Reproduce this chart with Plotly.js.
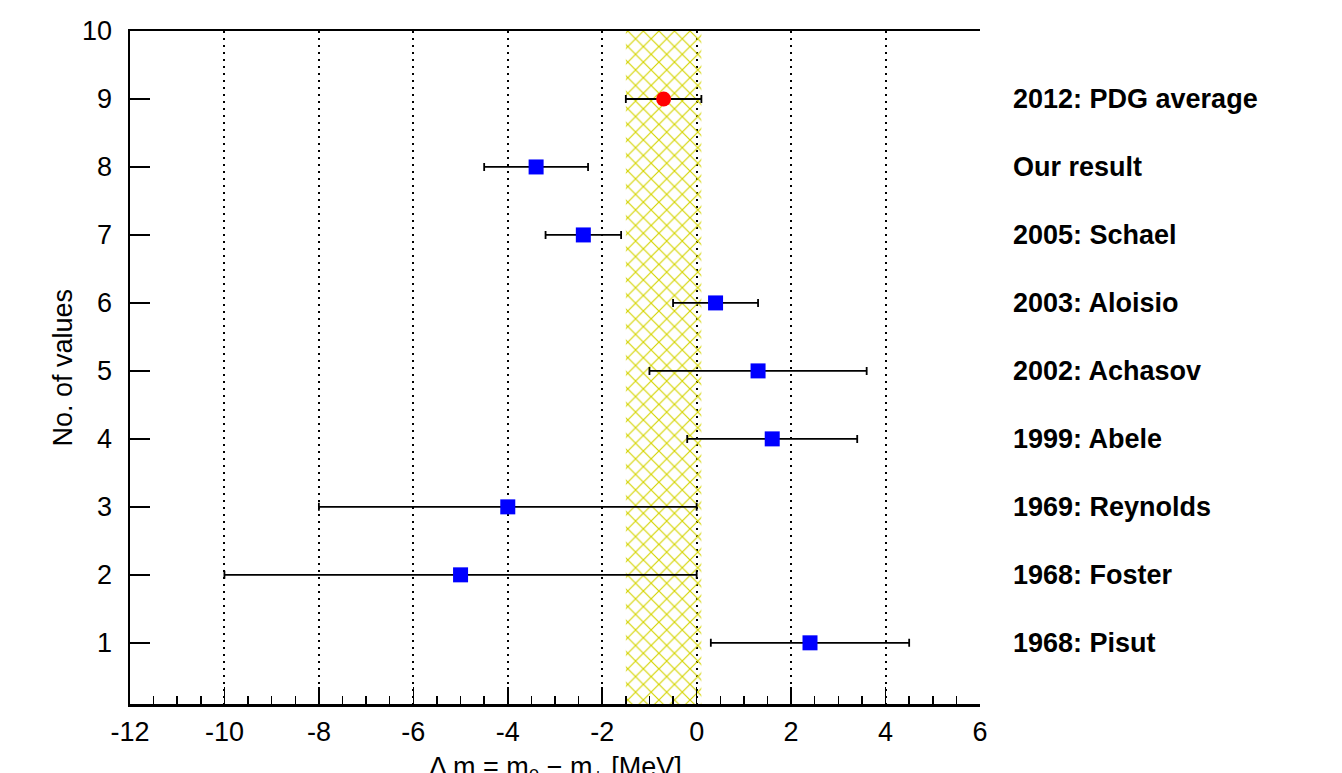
<!DOCTYPE html>
<html>
<head>
<meta charset="utf-8">
<script src="https://cdn.plot.ly/plotly-3.0.1.min.js"></script>
<style>html,body{margin:0;padding:0;background:#fff;}#chart{width:1342px;height:773px;}</style>
</head>
<body>
<div id="chart"></div>
<script>
// Measurements (No. of values position, value, error)
const labels = ["1968: Pisut", "1968: Foster", "1969: Reynolds", "1999: Abele", "2002: Achasov", "2003: Aloisio", "2005: Schael", "Our result"];
const positions = [1, 2, 3, 4, 5, 6, 7, 8];
const values = [2.4, -5.0, -4.0, 1.6, 1.3, 0.4, -2.4, -3.4];
const errors = [2.1, 5.0, 4.0, 1.8, 2.3, 0.9, 0.8, 1.1];

const pdgLabel = "2012: PDG average";
const pdgPosition = [9];
const pdgValue = [-0.7];
const pdgError = [0.8];

// Axis tick labels
const xTickVals = [-12, -10, -8, -6, -4, -2, 0, 2, 4, 6];
const xTickText = ["-12", "-10", "-8", "-6", "-4", "-2", "0", "2", "4", "6"];
const yTickVals = [1, 2, 3, 4, 5, 6, 7, 8, 9, 10];

const bandLow = pdgValue[0] - pdgError[0];
const bandHigh = pdgValue[0] + pdgError[0];
const yMin = 0.1, yMax = 10;
const FONT = 'Liberation Sans, Arial, sans-serif';

const traces = [
  {
    x: [bandLow, bandHigh, bandHigh, bandLow, bandLow],
    y: [yMin, yMin, yMax, yMax, yMin],
    type: 'scatter', mode: 'lines', fill: 'toself',
    line: {width: 0, color: 'rgba(0,0,0,0)'},
    fillcolor: 'rgba(0,0,0,0)',
    fillpattern: {shape: 'x', fgcolor: 'rgb(212,212,0)', bgcolor: 'rgba(0,0,0,0)', size: 11, solidity: 0.2},
    hoverinfo: 'skip', showlegend: false
  },
  {
    x: values, y: positions, type: 'scatter', mode: 'markers',
    marker: {symbol: 'square', size: 15, color: '#0000ff', line: {width: 0}},
    error_x: {type: 'data', array: errors, visible: true, color: 'black', thickness: 1.8, width: 4},
    showlegend: false
  },
  {
    x: pdgValue, y: pdgPosition, type: 'scatter', mode: 'markers',
    marker: {symbol: 'circle', size: 15, color: '#ff0000', line: {width: 0}},
    error_x: {type: 'data', array: pdgError, visible: true, color: 'black', thickness: 1.8, width: 4},
    showlegend: false
  }
];

const annotations = [];
const allLabels = labels.concat([pdgLabel]);
const allPos = positions.concat(pdgPosition);
allLabels.forEach((t, i) => {
  annotations.push({
    text: '<b>' + t + '</b>', xref: 'paper', yref: 'y', x: 1.037, y: allPos[i],
    xanchor: 'left', yanchor: 'middle', showarrow: false,
    font: {family: FONT, size: 27, color: 'black'}
  });
});
annotations.push({
  text: 'Δ m = m<sub>0</sub> − m<sub>+</sub> [MeV]', xref: 'paper', yref: 'paper',
  x: 0.5, y: -0.068, xanchor: 'center', yanchor: 'top', showarrow: false,
  font: {family: FONT, size: 27, color: 'black'}
});
annotations.push({
  text: 'No. of values', xref: 'paper', yref: 'paper', textangle: -90,
  x: -0.08, y: 0.5, xanchor: 'center', yanchor: 'middle', showarrow: false,
  font: {family: FONT, size: 27, color: 'black'}
});

const layout = {
  width: 1342, height: 773,
  margin: {l: 130, r: 362, t: 31, b: 69},
  paper_bgcolor: 'white', plot_bgcolor: 'white',
  font: {family: FONT, size: 27, color: 'black'},
  showlegend: false,
  xaxis: {
    range: [-12, 6], tickvals: xTickVals, ticktext: xTickText,
    ticks: 'inside', ticklen: 17, tickwidth: 1.5, tickcolor: 'black',
    minor: {dtick: 0.5, ticks: 'inside', ticklen: 8, tickwidth: 1.5, tickcolor: 'black', showgrid: false},
    showline: true, linewidth: 2.5, linecolor: 'black', mirror: true,
    showgrid: true, gridcolor: 'black', griddash: '2px,5px', gridwidth: 2,
    zeroline: false, ticklabelstandoff: 2,
    tickfont: {size: 27}
  },
  yaxis: {
    range: [yMin, yMax], tickvals: yTickVals,
    ticks: 'inside', ticklen: 20, tickwidth: 1.5, tickcolor: 'black',
    showline: true, linewidth: 2.5, linecolor: 'black',
    showgrid: false, zeroline: false, ticklabelstandoff: 10,
    tickfont: {size: 27}
  },
  annotations: annotations
};

Plotly.newPlot('chart', traces, layout, {displayModeBar: false, staticPlot: true});
</script>
</body>
</html>
